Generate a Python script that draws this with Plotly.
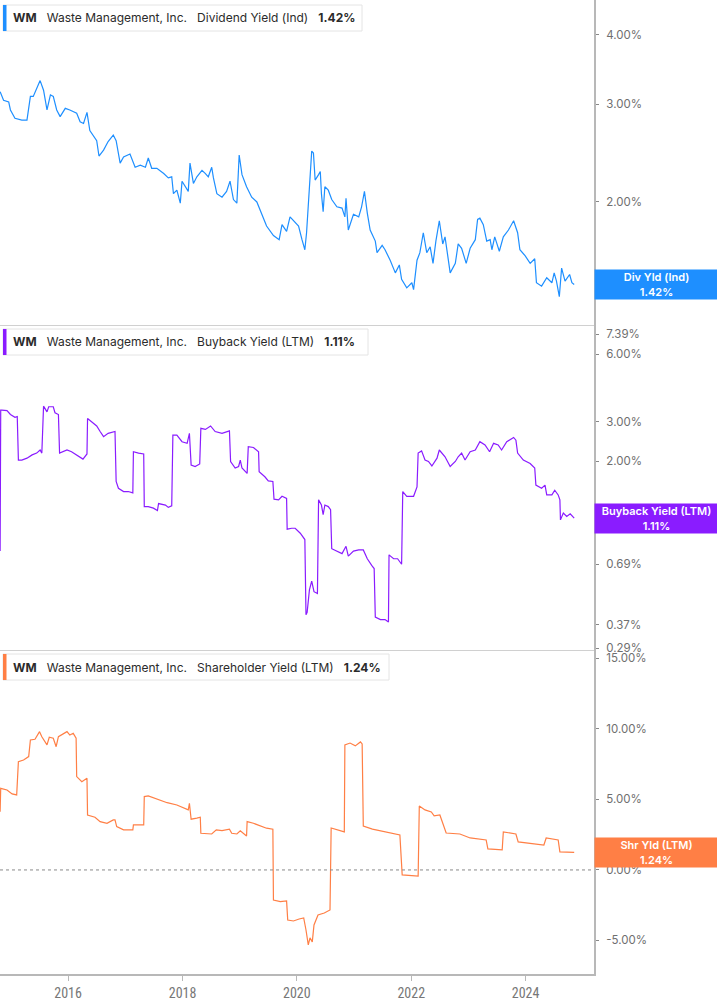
import math

import pandas as pd
import plotly.graph_objects as go
from plotly.subplots import make_subplots


BLUE = "#1e8fff"
PURPLE = "#8a1cff"
ORANGE = "#ff7f45"
AXIS_GRAY = "#b8b8b8"
TICK_GRAY = "#6f6f6f"

# dividend yield (Ind), %, sampled by decimal year
div_t = [
    2014.81, 2014.87, 2014.96, 2014.99, 2015.07, 2015.19, 2015.28, 2015.34, 2015.39, 2015.45,
    2015.51, 2015.57, 2015.63, 2015.69, 2015.74, 2015.80, 2015.86, 2015.95, 2016.03, 2016.15,
    2016.21, 2016.27, 2016.33, 2016.38, 2016.50, 2016.54, 2016.62, 2016.70, 2016.79, 2016.84,
    2016.91, 2016.97, 2017.08, 2017.17, 2017.26, 2017.35, 2017.40, 2017.46, 2017.55, 2017.67,
    2017.75, 2017.81, 2017.84, 2017.90, 2017.96, 2017.99, 2018.05, 2018.10, 2018.13, 2018.19,
    2018.25, 2018.34, 2018.40, 2018.45, 2018.51, 2018.54, 2018.60, 2018.69, 2018.77, 2018.83,
    2018.89, 2018.95, 2018.99, 2019.04, 2019.12, 2019.21, 2019.30, 2019.36, 2019.47, 2019.59,
    2019.69, 2019.74, 2019.82, 2019.88, 2019.97, 2020.03, 2020.09, 2020.14, 2020.17, 2020.20,
    2020.24, 2020.26, 2020.29, 2020.32, 2020.38, 2020.41, 2020.43, 2020.46, 2020.49, 2020.55,
    2020.61, 2020.70, 2020.79, 2020.84, 2020.86, 2020.90, 2020.99, 2021.08, 2021.13, 2021.18,
    2021.23, 2021.28, 2021.37, 2021.40, 2021.49, 2021.54, 2021.63, 2021.72, 2021.79, 2021.83,
    2021.92, 2022.01, 2022.04, 2022.10, 2022.15, 2022.21, 2022.27, 2022.33, 2022.38, 2022.43,
    2022.49, 2022.55, 2022.59, 2022.68, 2022.77, 2022.82, 2022.88, 2022.96, 2023.03, 2023.12,
    2023.16, 2023.20, 2023.26, 2023.32, 2023.38, 2023.41, 2023.46, 2023.54, 2023.61, 2023.70,
    2023.79, 2023.86, 2023.90, 2023.99, 2024.08, 2024.16, 2024.19, 2024.28, 2024.37, 2024.46,
    2024.50, 2024.54, 2024.59, 2024.63, 2024.69, 2024.77, 2024.81, 2024.85,
]
div_yield = [
    3.16, 3.05, 3.03, 2.93, 2.83, 2.81, 2.81, 3.10, 3.10, 3.20,
    3.31, 3.18, 2.93, 3.12, 3.10, 2.93, 2.85, 2.95, 2.93, 2.89,
    2.79, 2.77, 2.90, 2.69, 2.58, 2.42, 2.48, 2.57, 2.64, 2.58,
    2.35, 2.41, 2.44, 2.31, 2.33, 2.31, 2.40, 2.30, 2.30, 2.25,
    2.21, 2.22, 2.07, 2.10, 1.99, 2.18, 2.13, 2.09, 2.35, 2.16,
    2.22, 2.28, 2.25, 2.22, 2.31, 2.21, 2.07, 2.04, 2.09, 2.18,
    2.02, 1.99, 2.43, 2.24, 2.13, 2.04, 2.00, 1.93, 1.81, 1.74,
    1.71, 1.82, 1.77, 1.88, 1.84, 1.81, 1.71, 1.64, 1.76, 1.96,
    2.22, 2.47, 2.45, 2.19, 2.24, 2.27, 2.07, 1.92, 2.13, 2.10,
    2.02, 1.96, 1.95, 1.88, 2.03, 1.78, 1.90, 1.88, 1.96, 2.09,
    1.91, 1.78, 1.70, 1.62, 1.67, 1.64, 1.57, 1.49, 1.54, 1.45,
    1.40, 1.43, 1.39, 1.57, 1.62, 1.76, 1.62, 1.66, 1.55, 1.70,
    1.85, 1.68, 1.73, 1.49, 1.55, 1.68, 1.65, 1.55, 1.65, 1.71,
    1.86, 1.87, 1.82, 1.70, 1.71, 1.64, 1.73, 1.63, 1.73, 1.78,
    1.85, 1.76, 1.64, 1.60, 1.55, 1.58, 1.43, 1.41, 1.46, 1.43,
    1.49, 1.44, 1.35, 1.52, 1.44, 1.48, 1.43, 1.42,
]

# buyback yield (LTM), %
bb_t = [
    2014.81, 2014.82, 2014.84, 2014.93, 2014.99, 2015.07, 2015.11, 2015.13, 2015.19, 2015.28,
    2015.37, 2015.45, 2015.51, 2015.54, 2015.57, 2015.63, 2015.66, 2015.74, 2015.77, 2015.83,
    2015.85, 2015.92, 2015.98, 2016.06, 2016.15, 2016.26, 2016.33, 2016.34, 2016.41, 2016.50,
    2016.56, 2016.62, 2016.70, 2016.82, 2016.84, 2016.88, 2016.97, 2017.05, 2017.13, 2017.14,
    2017.23, 2017.32, 2017.33, 2017.40, 2017.49, 2017.56, 2017.58, 2017.70, 2017.75, 2017.81,
    2017.83, 2017.90, 2017.99, 2018.08, 2018.12, 2018.15, 2018.22, 2018.30, 2018.32, 2018.40,
    2018.49, 2018.57, 2018.69, 2018.82, 2018.84, 2018.92, 2018.98, 2019.01, 2019.04, 2019.13,
    2019.15, 2019.24, 2019.33, 2019.34, 2019.44, 2019.50, 2019.58, 2019.60, 2019.68, 2019.74,
    2019.82, 2019.83, 2019.91, 2019.97, 2020.06, 2020.14, 2020.16, 2020.18, 2020.22, 2020.26,
    2020.30, 2020.36, 2020.38, 2020.43, 2020.46, 2020.49, 2020.55, 2020.59, 2020.61, 2020.70,
    2020.79, 2020.86, 2020.90, 2020.99, 2021.08, 2021.16, 2021.23, 2021.31, 2021.35, 2021.37,
    2021.46, 2021.54, 2021.60, 2021.61, 2021.69, 2021.76, 2021.83, 2021.85, 2021.92, 2022.04,
    2022.10, 2022.12, 2022.18, 2022.24, 2022.30, 2022.36, 2022.45, 2022.49, 2022.59, 2022.68,
    2022.77, 2022.82, 2022.88, 2022.94, 2023.03, 2023.12, 2023.20, 2023.29, 2023.37, 2023.44,
    2023.52, 2023.58, 2023.67, 2023.79, 2023.83, 2023.86, 2023.96, 2024.08, 2024.16, 2024.18,
    2024.28, 2024.34, 2024.37, 2024.46, 2024.51, 2024.57, 2024.60, 2024.61, 2024.66, 2024.72,
    2024.78, 2024.85,
]
bb_yield = [
    0.79, 3.38, 3.38, 3.36, 3.23, 3.14, 3.16, 2.02, 2.02, 2.06,
    2.13, 2.17, 2.24, 2.17, 3.52, 3.32, 3.50, 3.50, 3.29, 3.23,
    2.17, 2.20, 2.24, 2.20, 2.13, 2.04, 2.15, 3.10, 3.00, 2.87,
    2.71, 2.57, 2.66, 2.71, 1.62, 1.51, 1.46, 1.46, 1.44, 2.20,
    2.17, 2.15, 1.25, 1.25, 1.23, 1.20, 1.29, 1.27, 1.24, 1.26,
    2.61, 2.61, 2.44, 2.40, 2.66, 1.92, 1.89, 1.94, 2.80, 2.77,
    2.87, 2.71, 2.66, 2.73, 1.99, 1.86, 1.89, 2.02, 1.86, 1.76,
    2.32, 2.30, 2.20, 1.79, 1.70, 1.63, 1.62, 1.35, 1.34, 1.39,
    1.36, 0.99, 1.00, 1.00, 0.95, 0.89, 0.41, 0.42, 0.53, 0.58,
    0.52, 0.51, 1.34, 1.27, 1.15, 1.27, 1.25, 1.21, 0.81, 0.79,
    0.77, 0.83, 0.75, 0.79, 0.80, 0.80, 0.73, 0.68, 0.66, 0.40,
    0.39, 0.39, 0.38, 0.76, 0.73, 0.73, 0.69, 1.46, 1.39, 1.39,
    1.53, 2.17, 2.22, 2.02, 1.99, 1.90, 2.06, 2.24, 2.09, 1.89,
    1.99, 2.09, 2.17, 2.02, 2.20, 2.24, 2.44, 2.36, 2.20, 2.40,
    2.36, 2.24, 2.44, 2.55, 2.48, 2.17, 2.02, 1.95, 1.86, 1.56,
    1.51, 1.56, 1.41, 1.41, 1.48, 1.41, 1.34, 1.09, 1.17, 1.13,
    1.16, 1.11,
]

# shareholder yield (LTM), %
shr_t = [
    2014.81, 2014.82, 2014.93, 2015.02, 2015.10, 2015.13, 2015.22, 2015.31, 2015.34, 2015.42,
    2015.50, 2015.54, 2015.63, 2015.67, 2015.74, 2015.79, 2015.83, 2015.92, 2015.98, 2016.03,
    2016.09, 2016.14, 2016.15, 2016.24, 2016.33, 2016.34, 2016.47, 2016.56, 2016.68, 2016.79,
    2016.82, 2016.85, 2016.97, 2017.13, 2017.14, 2017.32, 2017.33, 2017.40, 2017.55, 2017.73,
    2017.90, 2018.02, 2018.10, 2018.12, 2018.15, 2018.25, 2018.31, 2018.32, 2018.42, 2018.51,
    2018.59, 2018.69, 2018.82, 2018.86, 2018.95, 2019.01, 2019.12, 2019.13, 2019.24, 2019.36,
    2019.47, 2019.58, 2019.59, 2019.71, 2019.82, 2019.84, 2019.94, 2020.04, 2020.12, 2020.16,
    2020.20, 2020.23, 2020.27, 2020.30, 2020.37, 2020.48, 2020.58, 2020.60, 2020.72, 2020.83,
    2020.84, 2020.93, 2021.02, 2021.11, 2021.14, 2021.16, 2021.32, 2021.54, 2021.80, 2021.84,
    2022.12, 2022.14, 2022.24, 2022.35, 2022.40, 2022.50, 2022.61, 2022.85, 2023.03, 2023.31,
    2023.34, 2023.59, 2023.61, 2023.83, 2023.87, 2024.32, 2024.36, 2024.57, 2024.60, 2024.85,
]
shr_yield = [
    4.13, 5.79, 5.67, 5.39, 5.32, 7.68, 7.80, 8.04, 9.22, 9.27,
    9.81, 9.45, 8.87, 9.41, 9.34, 8.74, 9.45, 9.69, 9.81, 9.57,
    9.69, 9.34, 6.62, 6.26, 6.50, 3.90, 3.74, 3.43, 3.31, 3.55,
    3.55, 3.07, 2.84, 2.84, 3.19, 3.19, 5.20, 5.25, 5.01, 4.77,
    4.61, 4.38, 4.26, 4.73, 3.60, 3.67, 3.74, 2.60, 2.60, 2.55,
    2.84, 2.79, 2.89, 2.60, 2.55, 2.77, 2.41, 3.43, 3.31, 3.12,
    2.96, 2.89, -2.13, -2.25, -2.20, -3.55, -3.62, -3.48, -3.40, -4.26,
    -5.32, -4.82, -5.10, -3.90, -3.19, -3.05, -2.84, 2.98, 2.84, 2.70,
    8.87, 9.00, 8.80, 9.08, 8.94, 3.12, 2.90, 2.70, 2.48, -0.35,
    -0.43, 4.54, 4.26, 4.11, 3.83, 3.90, 2.62, 2.55, 2.27, 2.13,
    1.49, 1.42, 2.70, 2.55, 1.99, 1.77, 2.27, 2.13, 1.28, 1.24,
]

div_ticks = [2, 3, 4]
bb_ticks = [0.29, 0.37, 0.69, 1, 2, 3, 6, 7.39]
shr_ticks = [-5, 0, 5, 10, 15]


def to_dates(years):
    out = []
    for t in years:
        y = int(t)
        out.append(pd.Timestamp(year=y, month=1, day=1) + pd.Timedelta(days=(t - y) * 365.25))
    return out


def pct(v):
    return f"{v:.2f}%"


# plot area is 594 x 974 px; helpers to place boxes in paper units
PW, PH = 594, 974


def px(x):
    return x / PW


def py(y):
    return 1 - y / PH


fig = make_subplots(rows=3, cols=1, shared_xaxes=True, vertical_spacing=0)

fig.add_trace(go.Scatter(x=to_dates(div_t), y=div_yield, mode="lines",
                         line=dict(color=BLUE, width=1.2), hoverinfo="x+y"), row=1, col=1)
fig.add_trace(go.Scatter(x=to_dates(bb_t), y=bb_yield, mode="lines",
                         line=dict(color=PURPLE, width=1.2), hoverinfo="x+y"), row=2, col=1)
fig.add_trace(go.Scatter(x=to_dates(shr_t), y=shr_yield, mode="lines",
                         line=dict(color=ORANGE, width=1.2), hoverinfo="x+y"), row=3, col=1)

fig.add_hline(y=0, row=3, col=1, line=dict(color="#8a8a8a", width=1, dash="dot"))

tick_font = dict(family="Inter, Roboto, sans-serif", size=11.5, color=TICK_GRAY)
yaxis_common = dict(
    side="right", showgrid=False, zeroline=False, showline=True, linecolor=AXIS_GRAY,
    linewidth=2, ticks="outside", ticklen=3, tickcolor="#888", tickfont=tick_font,
    ticklabelstandoff=5,
)
fig.update_yaxes(type="log", range=[math.log10(1.20), math.log10(4.625)],
                 tickvals=div_ticks, ticktext=[pct(v) for v in div_ticks],
                 domain=[py(325), 1], row=1, col=1, **yaxis_common)
fig.update_yaxes(type="log", range=[-0.5452, 0.9100],
                 tickvals=bb_ticks, ticktext=[pct(v) for v in bb_ticks],
                 domain=[py(650), py(325)], row=2, col=1, **yaxis_common)
fig.update_yaxes(range=[-7.38, 15.60],
                 tickvals=shr_ticks, ticktext=[pct(v) for v in shr_ticks],
                 domain=[0, py(650)], row=3, col=1, **yaxis_common)

fig.update_xaxes(range=["2014-10-23", "2025-03-13"], showgrid=False, zeroline=False,
                 showline=True, linecolor="#d0d0d0", linewidth=1)
fig.update_xaxes(row=3, col=1, linecolor=AXIS_GRAY, linewidth=2, ticks="outside",
                 ticklen=5, tickcolor=AXIS_GRAY, tick0="2016-01-01", dtick="M24",
                 tickformat="%Y", showticklabels=True,
                 tickfont=dict(family="Liberation Sans Narrow, Roboto Condensed, Roboto, sans-serif",
                               size=14, color="#777777"))

panels = [
    (BLUE, "Dividend Yield (Ind)", div_yield[-1], 5, 31, 362, "y",
     "Div Yld (Ind)", math.log10(div_yield[-1])),
    (PURPLE, "Buyback Yield (LTM)", bb_yield[-1], 329, 355, 368, "y2",
     "Buyback Yield (LTM)", math.log10(bb_yield[-1])),
    (ORANGE, "Shareholder Yield (LTM)", shr_yield[-1], 654, 680, 389, "y3",
     "Shr Yld (LTM)", shr_yield[-1]),
]

sp = "&#160;&#160;&#160;"
for color, name, last, top, bottom, right, yref, short, ypos in panels:
    fig.add_shape(type="rect", xref="paper", yref="paper", x0=px(3), x1=px(right),
                  y0=py(bottom), y1=py(top), line=dict(color="#e4e4e4", width=1),
                  fillcolor="white", layer="above")
    fig.add_shape(type="rect", xref="paper", yref="paper", x0=px(3), x1=px(6.5),
                  y0=py(bottom), y1=py(top), line=dict(width=0), fillcolor=color,
                  layer="above")
    fig.add_annotation(xref="paper", yref="paper", x=px(11), y=py((top + bottom) / 2),
                       xanchor="left", yanchor="middle", showarrow=False,
                       text=f"<b>WM</b>{sp}Waste Management, Inc.{sp}{name}{sp}<b>{last:.2f}%</b>",
                       font=dict(family="Inter, Roboto, sans-serif", size=12, color="#2b2b2b"))
    fig.add_annotation(xref="paper", yref=yref, x=1, y=ypos, xanchor="left",
                       yanchor="middle", showarrow=False, width=123, height=29,
                       borderpad=0, bgcolor=color, align="center",
                       text=f"{short}<br>{last:.2f}%",
                       font=dict(family="Inter, Roboto, sans-serif", size=11,
                                 color="white", weight=600))

fig.update_layout(
    width=717, height=1005,
    margin=dict(l=0, r=123, t=0, b=31),
    paper_bgcolor="white", plot_bgcolor="white",
    showlegend=False,
)

fig.write_html("out.html", config={"displayModeBar": False},
               post_script="document.body.style.margin='0';")
